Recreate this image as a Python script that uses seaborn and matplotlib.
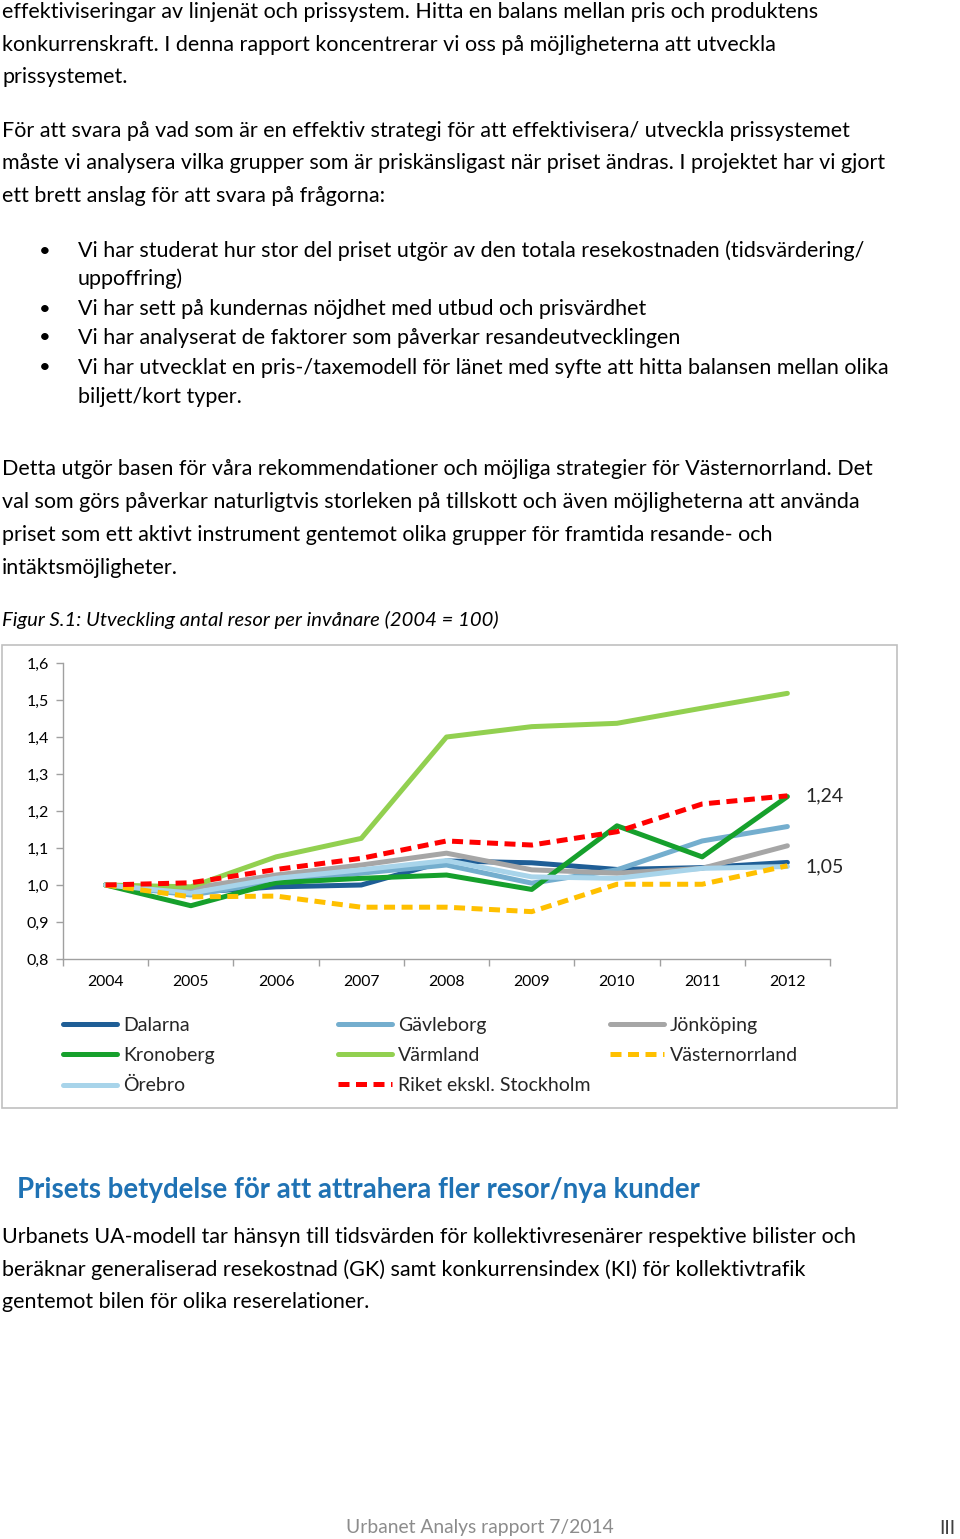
import matplotlib
matplotlib.use("Agg")
import matplotlib.pyplot as plt
import seaborn as sns
import pandas as pd
from matplotlib.patches import Rectangle
from matplotlib.lines import Line2D
from matplotlib.ticker import FuncFormatter, FixedLocator

# ---------------- data ----------------
years = [2004, 2005, 2006, 2007, 2008, 2009, 2010, 2011, 2012]
dalarna = [1.00, 0.98, 0.995, 1.00, 1.065, 1.06, 1.042, 1.047, 1.061]
gavleborg = [1.00, 0.973, 1.009, 1.032, 1.054, 1.005, 1.041, 1.119, 1.158]
jonkoping = [1.00, 0.991, 1.027, 1.054, 1.086, 1.041, 1.032, 1.045, 1.106]
kronoberg = [1.00, 0.944, 1.006, 1.018, 1.027, 0.988, 1.160, 1.076, 1.239]
varmland = [1.00, 0.995, 1.076, 1.126, 1.400, 1.428, 1.437, 1.478, 1.518]
vasternorrland = [1.00, 0.968, 0.970, 0.940, 0.940, 0.928, 1.002, 1.002, 1.052]
orebro = [1.00, 0.978, 1.018, 1.041, 1.066, 1.022, 1.018, 1.045, 1.050]
riket = [1.00, 1.006, 1.042, 1.072, 1.119, 1.108, 1.144, 1.219, 1.241]

series_names = ["Dalarna", "Gävleborg", "Jönköping", "Kronoberg", "Värmland",
                "Västernorrland", "Örebro", "Riket ekskl. Stockholm"]
series_values = [dalarna, gavleborg, jonkoping, kronoberg, varmland,
                 vasternorrland, orebro, riket]
end_labels = ["1,24", "1,05"]
end_values = [1.24, 1.05]
y_ticks = [0.8, 0.9, 1.0, 1.1, 1.2, 1.3, 1.4, 1.5, 1.6]

colors = {
    "Dalarna": "#1f5e96",
    "Gävleborg": "#74aece",
    "Jönköping": "#a6a6a6",
    "Kronoberg": "#16a02c",
    "Värmland": "#92d050",
    "Västernorrland": "#ffc000",
    "Örebro": "#a8d4ea",
    "Riket ekskl. Stockholm": "#ff0000",
}
dashed = {"Västernorrland", "Riket ekskl. Stockholm"}

df = pd.DataFrame({
    "year": years * len(series_names),
    "value": [v for vals in series_values for v in vals],
    "series": [n for n in series_names for _ in years],
})

# ---------------- figure ----------------
sns.set_theme(style="white")
FONT = ["Lato", "DejaVu Sans"]
plt.rcParams["font.family"] = FONT

W, H = 960, 1539
BODY = 15.5
fig = plt.figure(figsize=(W / 100, H / 100), dpi=100)

def T(x, y, s, **kw):
    kw.setdefault("fontsize", BODY)
    kw.setdefault("color", "black")
    fig.text(x / W, 1 - y / H, s, va="center", ha=kw.pop("ha", "left"), **kw)

body = [
    (12, "effektiviseringar av linjenät och prissystem. Hitta en balans mellan pris och produktens"),
    (45, "konkurrenskraft. I denna rapport koncentrerar vi oss på möjligheterna att utveckla"),
    (77, "prissystemet."),
    (131, "För att svara på vad som är en effektiv strategi för att effektivisera/ utveckla prissystemet"),
    (163, "måste vi analysera vilka grupper som är priskänsligast när priset ändras. I projektet har vi gjort"),
    (196, "ett brett anslag för att svara på frågorna:"),
    (469, "Detta utgör basen för våra rekommendationer och möjliga strategier för Västernorrland. Det"),
    (502, "val som görs påverkar naturligtvis storleken på tillskott och även möjligheterna att använda"),
    (535, "priset som ett aktivt instrument gentemot olika grupper för framtida resande- och"),
    (568, "intäktsmöjligheter."),
    (1237, "Urbanets UA-modell tar hänsyn till tidsvärden för kollektivresenärer respektive bilister och"),
    (1270, "beräknar generaliserad resekostnad (GK) samt konkurrensindex (KI) för kollektivtrafik"),
    (1302, "gentemot bilen för olika reserelationer."),
]
for y, s in body:
    T(2, y, s)

bullets = [
    (251, "Vi har studerat hur stor del priset utgör av den totala resekostnaden (tidsvärdering/", True),
    (279, "uppoffring)", False),
    (309, "Vi har sett på kundernas nöjdhet med utbud och prisvärdhet", True),
    (338, "Vi har analyserat de faktorer som påverkar resandeutvecklingen", True),
    (368, "Vi har utvecklat en pris-/taxemodell för länet med syfte att hitta balansen mellan olika", True),
    (397, "biljett/kort typer.", False),
]
for y, s, b in bullets:
    if b:
        T(45, y, "\u2022", ha="center", fontsize=14.5)
    T(78, y, s)

T(2, 620, "Figur S.1: Utveckling antal resor per invånare (2004 = 100)", style="italic", fontsize=14.6)
T(17, 1190, "Prisets betydelse för att attrahera fler resor/nya kunder",
  fontsize=19.9, fontweight="bold", color="#1f72b4")
T(346, 1528, "Urbanet Analys rapport 7/2014", color="#8c8c8c", fontsize=13.9)
T(955, 1528, "III", ha="right", color="#404040", fontsize=13.9)

# chart frame
fig.patches.append(Rectangle((2 / W, 1 - 1108 / H), (897 - 2) / W, (1108 - 645) / H,
                             transform=fig.transFigure, fill=False,
                             edgecolor="#c0c0c0", linewidth=1.2))

# ---------------- chart ----------------
ax = fig.add_axes([63 / W, 1 - 959 / H, (830 - 63) / W, (959 - 663) / H])
ax.set_facecolor("none")
for name in series_names:
    sub = df[df["series"] == name]
    sns.lineplot(data=sub, x="year", y="value", ax=ax, color=colors[name],
                 linewidth=3.6, linestyle=(0, (2.2, 1.3)) if name in dashed else "-",
                 legend=False, zorder=3 if name in dashed else 2)

ax.set_xlim(years[0] - 0.5, years[-1] + 0.5)
ax.set_ylim(y_ticks[0], y_ticks[-1])
ax.set_xlabel("")
ax.set_ylabel("")
ax.set_xticks(years)
ax.set_xticklabels([str(y) for y in years])
ax.xaxis.set_minor_locator(FixedLocator([y + 0.5 for y in [years[0] - 1] + years]))
ax.set_yticks(y_ticks)
ax.yaxis.set_major_formatter(FuncFormatter(lambda v, p: f"{v:.1f}".replace(".", ",")))
ax.tick_params(axis="x", which="major", length=0, pad=11.5, labelsize=11.3, colors="black")
ax.tick_params(axis="x", which="minor", length=5, color="#a0a0a0", width=1, direction="out", bottom=True)
ax.tick_params(axis="y", which="major", length=5, color="#a0a0a0", width=1, direction="out",
               left=True, labelsize=11.5, pad=5, labelcolor="black")
for side in ["top", "right"]:
    ax.spines[side].set_visible(False)
for side in ["left", "bottom"]:
    ax.spines[side].set_color("#a0a0a0")
    ax.spines[side].set_linewidth(1)
ax.grid(False)

for lab, val in zip(end_labels, end_values):
    ax.annotate(lab, xy=(years[-1], val), xytext=(13, 0), textcoords="offset points",
                va="center", ha="left", fontsize=14, annotation_clip=False)

# ---------------- legend (3 columns, Excel style) ----------------
def handle(name):
    return Line2D([], [], color=colors[name], linewidth=3.6,
                  linestyle=(0, (2.2, 1.3)) if name in dashed else "-")

columns = [
    (63, ["Dalarna", "Kronoberg", "Örebro"]),
    (338, ["Gävleborg", "Värmland", "Riket ekskl. Stockholm"]),
    (610, ["Jönköping", "Västernorrland"]),
]
for x0, names in columns:
    leg = fig.legend([handle(n) for n in names], names, loc="upper left",
                     bbox_to_anchor=((x0 - 8) / W, 1 - 1009 / H), frameon=False,
                     fontsize=14, handlelength=2.8, handletextpad=0.3,
                     labelspacing=0.68, borderaxespad=0)

fig.savefig("out.png", dpi=100)
